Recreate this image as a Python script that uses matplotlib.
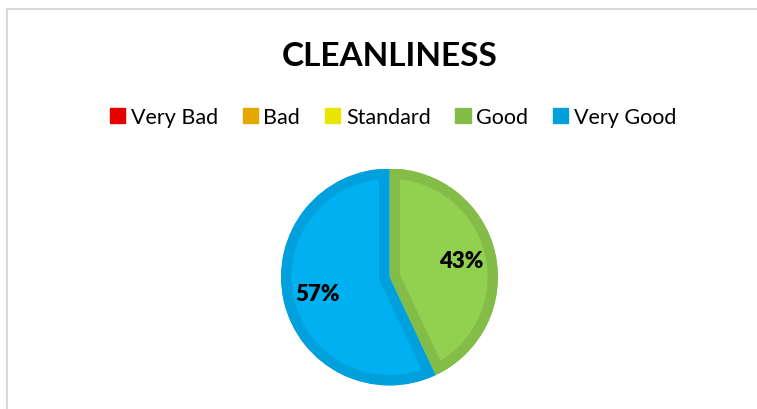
import matplotlib.pyplot as plt
from matplotlib.patches import Patch
from matplotlib.lines import Line2D

# data
categories = ["Very Bad", "Bad", "Standard", "Good", "Very Good"]
values = [0, 0, 0, 43, 57]
fill_colors = ["#FF0000", "#F0B000", "#F0F000", "#92D050", "#00B0F0"]
edge_colors = ["#E60000", "#E6A800", "#E6E600", "#84BC48", "#00A0DC"]

plt.rcParams["font.family"] = ["Lato", "DejaVu Sans"]

W, H = 757, 410
fig = plt.figure(figsize=(W / 100, H / 100), dpi=100)

# light chart frame (top and left edges visible)
fig.add_artist(Line2D([7 / W, 1], [1 - 10 / H, 1 - 10 / H], color="#D9D9D9", lw=1.5))
fig.add_artist(Line2D([7 / W, 7 / W], [0, 1 - 10 / H], color="#D9D9D9", lw=1.5))

# title
fig.text(390 / W, 1 - 66 / H, "CLEANLINESS", ha="center", va="baseline",
         fontsize=24, fontweight="bold", color="black")

# pie axes, square box in pixels
cx, cy, R = 389.5, 278, 108.5
ax = fig.add_axes([(cx - R) / W, (H - cy - R) / H, 2 * R / W, 2 * R / H])

vals = [v for v in values if v > 0]
fills = [c for v, c in zip(values, fill_colors) if v > 0]
edges = [c for v, c in zip(values, edge_colors) if v > 0]

wedges, texts, autotexts = ax.pie(vals, colors=fills, startangle=90, counterclock=False,
                                  autopct="%d%%", pctdistance=0.68,
                                  textprops=dict(fontsize=16, fontweight="heavy", color="black"))
# thick border drawn only on the inside of each slice
for w, ec in zip(wedges, edges):
    w.set_edgecolor(ec)
    w.set_linewidth(15)
    w.set_clip_on(True)
    w.set_clip_path(w)
ax.set_xlim(-1, 1)
ax.set_ylim(-1, 1)
ax.axis("off")

# legend
handles = [Patch(facecolor=c, edgecolor=c) for c in edge_colors]
fig.legend(handles, categories, loc="center", bbox_to_anchor=(393 / W, 1 - 118 / H),
           ncol=5, frameon=False, fontsize=15.5, handlelength=0.72, handleheight=0.72,
           handletextpad=0.25, columnspacing=1.15)

fig.savefig("out.png", dpi=100)
